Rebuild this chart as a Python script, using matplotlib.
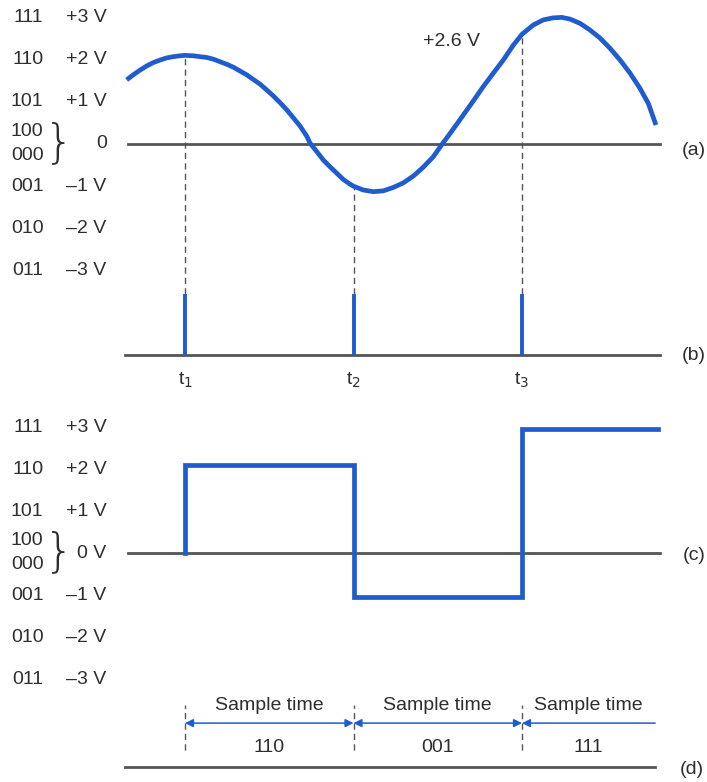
import matplotlib.pyplot as plt
import numpy as np

# analog input, read along the time axis (sample period = 1)
t_wave = [0.654, 0.693, 0.733, 0.773, 0.812, 0.852, 0.891, 0.931, 0.970, 1.0,
          1.049, 1.089, 1.129, 1.168, 1.208, 1.247, 1.287, 1.326, 1.366, 1.405,
          1.445, 1.485, 1.524, 1.564, 1.604, 1.643, 1.682, 1.722, 1.742, 1.782,
          1.821, 1.861, 1.900, 1.939, 1.979, 2.0, 2.058, 2.118, 2.177, 2.236,
          2.296, 2.355, 2.414, 2.474, 2.523, 2.573, 2.622, 2.652, 2.711, 2.770,
          2.830, 2.889, 2.948, 3.0, 3.067, 3.126, 3.186, 3.236, 3.285, 3.344,
          3.404, 3.463, 3.522, 3.582, 3.641, 3.700, 3.750, 3.795]
v_wave = [1.52, 1.64, 1.75, 1.85, 1.93, 1.99, 2.04, 2.07, 2.09, 2.1,
          2.09, 2.07, 2.05, 2.01, 1.95, 1.89, 1.82, 1.73, 1.64, 1.53,
          1.42, 1.28, 1.14, 0.98, 0.81, 0.62, 0.43, 0.19, 0.02, -0.18,
          -0.38, -0.54, -0.69, -0.84, -0.95, -1.0, -1.09, -1.13, -1.11, -1.03,
          -0.92, -0.76, -0.55, -0.30, -0.02, 0.25, 0.52, 0.69, 1.02, 1.36,
          1.68, 1.99, 2.34, 2.6, 2.82, 2.94, 2.99, 3.0, 2.96, 2.86,
          2.70, 2.51, 2.27, 1.99, 1.68, 1.32, 0.96, 0.45]

# sampling instants and the input value at each one
t_samp = [1, 2, 3]
v_samp = [2.1, -1.0, 2.6]
t_names = ['t$_1$', 't$_2$', 't$_3$']

# held (quantized) output and its 3-bit code per interval
q_out = [2.1, -1.05, 2.95]
t_end = 3.807
codes = ['110', '001', '111']

# level scale on the left
levels = [3, 2, 1, 0, -1, -2, -3]
level_codes = ['111', '110', '101', '', '001', '010', '011']
volts_a = ['+3 V', '+2 V', '+1 V', '0', '–1 V', '–2 V', '–3 V']
volts_c = ['+3 V', '+2 V', '+1 V', '0 V', '–1 V', '–2 V', '–3 V']

blue = '#1f5ccf'
gray = '#555555'
txt = '#2e2e2e'
fs = 14
plt.rcParams['font.family'] = ['Liberation Sans Narrow', 'Liberation Sans', 'DejaVu Sans']

W, H = 707, 782
fig = plt.figure(figsize=(W / 100, H / 100), dpi=100)
ax_top = fig.add_axes([0, 1 - 400 / H, 1, 400 / H])
ax_bot = fig.add_axes([0, 0, 1, 382 / H])
xlim = (-185 / 168.5 + 1, (W - 185) / 168.5 + 1)
ax_top.set_xlim(*xlim)
ax_top.set_ylim(-256 / 42.2, 144 / 42.2)
ax_bot.set_xlim(*xlim)
ax_bot.set_ylim(-229 / 42.0, 153 / 42.0)
for ax in (ax_top, ax_bot):
    ax.axis('off')


def level_scale(ax, vlabels):
    for lv, code, vl in zip(levels, level_codes, vlabels):
        if code:
            ax.text(0.16, lv, code, ha='right', va='center', fontsize=fs, color=txt)
        ax.text(0.535, lv, vl, ha='right', va='center', fontsize=fs, color=txt)
    ax.text(0.16, 0.3, '100', ha='right', va='center', fontsize=fs, color=txt)
    ax.text(0.16, -0.28, '000', ha='right', va='center', fontsize=fs, color=txt)
    ax.text(0.163, 0.02, '}', ha='left', va='center', fontsize=34, color=txt,
            fontweight='light', family='DejaVu Sans')


# (a) analog input with sample instants
ax_top.plot([0.662, 3.819], [0, 0], color=gray, lw=2)
ax_top.vlines(t_samp, -3.56, v_samp, color=gray, lw=1, linestyles=(0, (4.5, 3)))
ax_top.plot(t_wave, v_wave, color=blue, lw=3.4, solid_joinstyle='round', solid_capstyle='butt')
ax_top.text(2.58, 2.42, '+2.6 V', ha='center', va='center', fontsize=fs, color=txt)
level_scale(ax_top, volts_a)
ax_top.text(4.02, -0.15, '(a)', ha='center', va='center', fontsize=fs, color=txt)

# (b) sampling pulses
ax_top.plot([0.644, 3.819], [-5.0, -5.0], color=gray, lw=2)
ax_top.vlines(t_samp, -5.0, -3.56, color=blue, lw=2.8)
for ts, name in zip(t_samp, t_names):
    ax_top.text(ts, -5.6, name, ha='center', va='center', fontsize=fs, color=txt)
ax_top.text(4.02, -5.0, '(b)', ha='center', va='center', fontsize=fs, color=txt)

# (c) quantized output held over each sample period
stair_x, stair_y = [t_samp[0]], [0]
for i, q in enumerate(q_out):
    t_next = t_samp[i + 1] if i + 1 < len(t_samp) else t_end
    stair_x += [t_samp[i], t_next]
    stair_y += [q, q]
ax_bot.plot([0.662, 3.819], [0, 0], color=gray, lw=2)
ax_bot.plot(stair_x, stair_y, color=blue, lw=3.4, solid_joinstyle='miter')
level_scale(ax_bot, volts_c)
ax_bot.text(4.02, -0.07, '(c)', ha='center', va='center', fontsize=fs, color=txt)

# (d) digital code per sample time
ax_bot.vlines(t_samp, -4.69, -3.62, color=gray, lw=1, linestyles=(0, (4.5, 3)))
y_arr = -4.05
bounds = t_samp + [3.79]
for i in range(len(t_samp)):
    style = '<|-|>' if i + 1 < len(t_samp) else '-|>'
    ax_bot.annotate('', xy=(bounds[i], y_arr), xytext=(bounds[i + 1], y_arr),
                    arrowprops=dict(arrowstyle=style, color=blue, lw=1.1,
                                    mutation_scale=12, shrinkA=0, shrinkB=0))
    mid = (bounds[i] + bounds[i + 1]) / 2
    ax_bot.text(mid, -3.62, 'Sample time', ha='center', va='center', fontsize=fs, color=txt)
    ax_bot.text(mid, -4.62, codes[i], ha='center', va='center', fontsize=fs, color=txt)
ax_bot.plot([0.644, 3.79], [-5.1, -5.1], color=gray, lw=2)
ax_bot.text(4.01, -5.15, '(d)', ha='center', va='center', fontsize=fs, color=txt)

fig.savefig('out.png', dpi=100)
